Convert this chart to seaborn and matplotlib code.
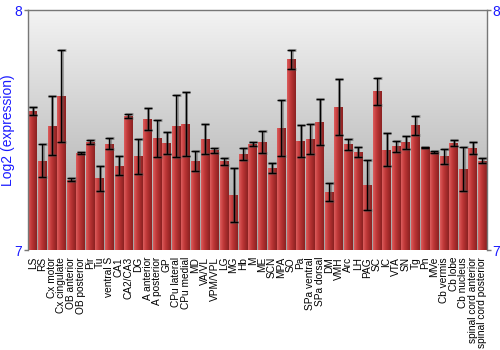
import numpy as np
import pandas as pd
import matplotlib
matplotlib.use("Agg")
import matplotlib.pyplot as plt
import seaborn as sns
from matplotlib.colors import LinearSegmentedColormap

regions = ["LS", "RS", "Cx motor", "Cx cingulate", "OB anterior", "OB posterior", "Pir", "Tu",
           "ventral S", "CA1", "CA2/CA3", "DG", "A anterior", "A posterior", "GP", "CPu lateral",
           "CPu medial", "MD", "VA/VL", "VPM/VPL", "LG", "MG", "Hb", "M",
           "ME", "SCN", "MPA", "SO", "Pa", "SPa ventral", "SPa dorsal", "DM",
           "VMH", "Arc", "LH", "PAG", "SC", "IC", "VTA", "SN",
           "Tg", "Pn", "MVe", "Cb vermis", "Cb lobe", "Cb nucleus", "spinal cord anterior", "spinal cord posterior"]
expression = [7.579, 7.372, 7.518, 7.642, 7.292, 7.405, 7.451, 7.299,
              7.443, 7.351, 7.560, 7.390, 7.546, 7.465, 7.446, 7.517,
              7.525, 7.371, 7.464, 7.415, 7.369, 7.228, 7.400, 7.442,
              7.450, 7.342, 7.507, 7.794, 7.454, 7.461, 7.533, 7.242,
              7.596, 7.440, 7.408, 7.270, 7.662, 7.417, 7.432, 7.449,
              7.519, 7.428, 7.408, 7.390, 7.446, 7.337, 7.424, 7.372]
errors = [0.018, 0.069, 0.124, 0.193, 0.006, 0.004, 0.008, 0.053,
          0.024, 0.040, 0.008, 0.072, 0.046, 0.076, 0.047, 0.130,
          0.134, 0.042, 0.062, 0.010, 0.013, 0.112, 0.026, 0.010,
          0.047, 0.020, 0.117, 0.041, 0.066, 0.063, 0.095, 0.037,
          0.115, 0.022, 0.022, 0.104, 0.056, 0.069, 0.022, 0.027,
          0.041, 0.002, 0.003, 0.032, 0.013, 0.092, 0.025, 0.010]
y_ticks = [7, 8]

df = pd.DataFrame({"region": regions, "expression": expression, "err": errors})

sns.set_style("white")
plt.rcParams['font.family'] = ['Liberation Sans', 'DejaVu Sans']

fig = plt.figure(figsize=(5, 3.5), dpi=100)
ax = fig.add_axes([0.056, 0.2857, 0.918, 0.6857])

sns.barplot(data=df, x="region", y="expression", order=regions, color="#c03a3a",
            width=0.9, errorbar=None, ax=ax, zorder=2, linewidth=0)

n = len(regions)
ax.set_ylim(7, 8)
ax.set_xlim(-0.5, n - 0.5)

# background gradient (light at top, darker at bottom)
bg = np.linspace(0, 1, 256).reshape(-1, 1)
bg_cmap = LinearSegmentedColormap.from_list("bg", ["#f3f3f3", "#a4a4a4"])
ax.imshow(bg, cmap=bg_cmap, aspect="auto", extent=[-0.5, n - 0.5, 7, 8],
          origin="upper", zorder=0)

# bar gradients
bar_cmap = LinearSegmentedColormap.from_list("bar", ["#dc5e5e", "#c43c3c", "#a82c2c", "#8a2222"])
grad = np.linspace(0, 1, 64).reshape(1, -1)
for p in ax.patches:
    x0 = p.get_x(); w = p.get_width(); h = p.get_y() + p.get_height()
    im = ax.imshow(grad, cmap=bar_cmap, aspect="auto", extent=[x0, x0 + w, 7, h],
                   zorder=2.5)
    im.set_clip_path(p)
ax.set_xlim(-0.5, n - 0.5)
ax.set_ylim(7, 8)

xs = np.arange(n)
ax.errorbar(xs + 0.06, df["expression"], yerr=df["err"], fmt="none", ecolor="#555555",
            elinewidth=2.2, capsize=3, capthick=2.2, alpha=0.45, zorder=3)
ax.errorbar(xs, df["expression"], yerr=df["err"], fmt="none", ecolor="black",
            elinewidth=1, capsize=3, capthick=1, zorder=4)

ax.set_yticks(y_ticks)
ax.set_yticklabels([str(t) for t in y_ticks])
ax.tick_params(axis="y", which="both", left=True, right=True, labelleft=True, labelright=True,
               colors="#777777", labelcolor="#1a1aff", labelsize=10, length=3, width=1, pad=1)
ax.tick_params(axis="x", bottom=False, labelsize=7.3, pad=1.5, labelcolor="black")
ax.set_xticks(xs)
ax.set_xticklabels(regions, rotation=90, ha="center", va="top")
ax.set_xlabel("")
ax.set_ylabel("Log2 (expression)", color="#1a1aff", fontsize=10, labelpad=0)

for side in ["left", "right", "top"]:
    ax.spines[side].set_visible(True)
    ax.spines[side].set_color("#777777")
    ax.spines[side].set_linewidth(1)
ax.spines["bottom"].set_visible(False)

fig.savefig("out.png", dpi=100)
